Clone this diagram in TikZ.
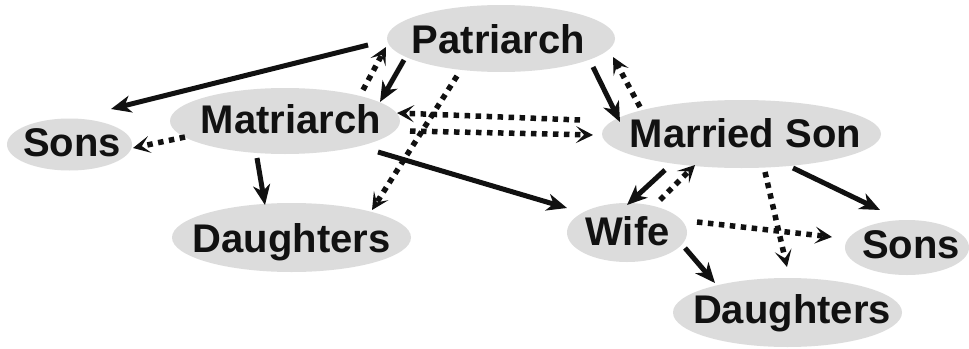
\documentclass[tikz,border=0pt]{standalone}
\usepackage{fontspec}
\setmainfont{Liberation Sans}
\usetikzlibrary{arrows.meta,shapes.geometric,calc}

\definecolor{nodegray}{HTML}{DCDCDC}
\definecolor{ink}{HTML}{111111}

\tikzset{
  blob/.style={ellipse, fill=nodegray, draw=none, inner sep=0pt},
  lab/.style={font=\fontsize{40}{48}\selectfont\bfseries, text=ink, anchor=base, inner sep=0pt},
  solidarrow/.style={draw=ink, line width=5pt,
    -{Stealth[length=20pt,width=17pt,inset=6pt]}},
  dotarrow/.style={draw=ink, line width=5.5pt, dash pattern=on 5.5pt off 5.5pt,
    -{Stealth[length=17pt,width=17pt,inset=8pt]}},
}

\begin{document}
\begin{tikzpicture}[x=1pt,y=-1pt]
  \useasboundingbox[fill=white] (0,0) rectangle (969,348);

  % family members
  \node[blob, minimum width=228pt, minimum height=67pt] (pat)   at (501,38.5)  {};
  \node[blob, minimum width=230pt, minimum height=66pt] (mat)   at (285,121)   {};
  \node[blob, minimum width=125pt, minimum height=52pt] (sonsL) at (69.5,144.5) {};
  \node[blob, minimum width=239pt, minimum height=69pt] (dauL)  at (291.5,237.5) {};
  \node[blob, minimum width=279pt, minimum height=68pt] (ms)    at (741.5,134) {};
  \node[blob, minimum width=120pt, minimum height=59pt] (wife)  at (627,232.5) {};
  \node[blob, minimum width=124pt, minimum height=55pt] (sonsR) at (907,247.5) {};
  \node[blob, minimum width=229pt, minimum height=69pt] (dauR)  at (787.5,312.5) {};

  % names
  \node[lab] (patT)   at (498.5,53) {Patriarch};
  \node[lab] (matT)   at (291,133)  {Matriarch};
  \node[lab] (sonsLT) at (72,156)   {Sons};
  \node[lab] (dauLT)  at (291.5,252) {Daughters};
  \node[lab] (msT)    at (745.5,147) {Married Son};
  \node[lab] (wifeT)  at (627.5,245) {Wife};
  \node[lab] (sonsRT) at (911,258)  {Sons};
  \node[lab] (dauRT)  at (792,323)  {Daughters};

  % solid links
  \draw[solidarrow] ($(pat)+(-133,6.5)$)  -- ($(sonsL)+(41.5,-35.5)$);
  \draw[solidarrow] ($(pat)+(-97,21.5)$)  -- ($(mat)+(95,-19)$);
  \draw[solidarrow] ($(pat)+(92,28.5)$)   -- ($(ms)+(-121.5,-12)$);
  \draw[solidarrow] ($(mat)+(-28,37)$)    -- ($(dauL)+(-26.5,-32.5)$);
  \draw[solidarrow] ($(mat)+(93,31)$)     -- ($(wife)+(-60,-24.5)$);
  \draw[solidarrow] ($(ms)+(-76.5,36)$)   -- ($(wife)+(0,-27.5)$);
  \draw[solidarrow] ($(ms)+(51.5,34)$)    -- ($(sonsR)+(-27,-37.5)$);
  \draw[solidarrow] ($(wife)+(58,15.5)$)  -- ($(dauR)+(-72.5,-29.5)$);

  % dotted links
  \draw[dotarrow] ($(mat)+(78,-31)$)      -- ($(pat)+(-115,8.5)$);
  \draw[dotarrow] ($(pat)+(-44,37.5)$)    -- ($(dauL)+(80.5,-27.5)$);
  \draw[dotarrow] ($(ms)+(-161.5,-14)$)   -- ($(mat)+(112,-8)$);
  \draw[dotarrow] ($(mat)+(125,10)$)      -- ($(ms)+(-148.5,1)$);
  \draw[dotarrow] ($(ms)+(-101.5,-27)$)   -- ($(pat)+(112,18.5)$);
  \draw[dotarrow] ($(mat)+(-100,16)$)     -- ($(sonsL)+(63.5,3.5)$);
  \draw[dotarrow] ($(wife)+(33,-32.5)$)   -- ($(ms)+(-46.5,31)$);
  \draw[dotarrow] ($(wife)+(70,-10.5)$)   -- ($(sonsR)+(-75,-10.5)$);
  \draw[dotarrow] ($(ms)+(23.5,38)$)      -- ($(dauR)+(-0.5,-45.5)$);
\end{tikzpicture}
\end{document}
